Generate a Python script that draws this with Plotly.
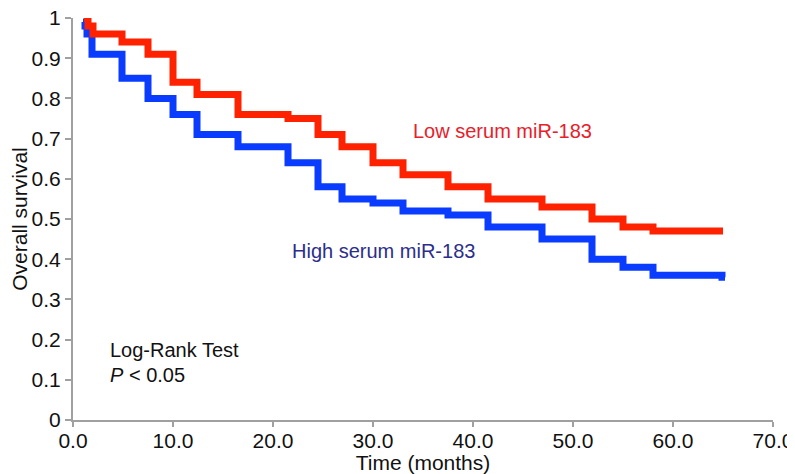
import plotly.graph_objects as go

# Low serum miR-183 (red) Kaplan-Meier steps
low_t = [1.1, 1.5, 2.0, 4.9, 7.5, 10.0, 12.4, 16.5, 21.5, 24.5, 26.9, 30.0, 33.0, 37.5, 41.5, 46.9, 51.9, 55.0, 58.0, 65.0]
low_s = [1.00, 0.98, 0.96, 0.94, 0.91, 0.84, 0.81, 0.76, 0.75, 0.71, 0.68, 0.64, 0.61, 0.58, 0.55, 0.53, 0.50, 0.48, 0.47, 0.47]

# High serum miR-183 (blue)
high_t = [1.0, 1.2, 1.4, 1.9, 4.9, 7.5, 10.0, 12.4, 16.5, 21.5, 24.5, 26.9, 30.0, 33.0, 37.5, 41.5, 46.9, 51.9, 55.0, 58.0, 64.9, 65.2]
high_s = [0.99, 0.98, 0.96, 0.91, 0.85, 0.80, 0.76, 0.71, 0.68, 0.64, 0.58, 0.55, 0.54, 0.52, 0.51, 0.48, 0.45, 0.40, 0.38, 0.36, 0.355, 0.355]

x_ticks = [0, 10, 20, 30, 40, 50, 60, 70]
y_ticks = [0, 0.1, 0.2, 0.3, 0.4, 0.5, 0.6, 0.7, 0.8, 0.9, 1]

FONT = "Liberation Sans, Arial, sans-serif"
FS = 21

fig = go.Figure()
fig.add_trace(go.Scatter(x=high_t, y=high_s, mode="lines", line=dict(shape="hv", color="#0A3CFF", width=7),
                         cliponaxis=False, showlegend=False))
fig.add_trace(go.Scatter(x=low_t, y=low_s, mode="lines", line=dict(shape="hv", color="#FF2200", width=7),
                         cliponaxis=False, showlegend=False))

fig.add_annotation(x=33.8, y=0.72, text="Low serum miR-183", showarrow=False, xanchor="left", yanchor="middle",
                   font=dict(family=FONT, size=FS - 1, color="#E8202A"))
fig.add_annotation(x=21.7, y=0.42, text="High serum miR-183", showarrow=False, xanchor="left", yanchor="middle",
                   font=dict(family=FONT, size=FS - 1, color="#2B2E8C"))
fig.add_annotation(x=3.5, y=0.174, text="Log-Rank Test", showarrow=False, xanchor="left", yanchor="middle",
                   font=dict(family=FONT, size=FS - 1, color="#111111"))
fig.add_annotation(x=3.5, y=0.112, text="<i>P</i> < 0.05", showarrow=False, xanchor="left", yanchor="middle",
                   font=dict(family=FONT, size=FS - 1, color="#111111"))

# page body has an 8px margin, so the figure is sized to fit the 795x474 window
fig.update_layout(
    width=787, height=466,
    margin=dict(l=65, r=22, t=10, b=54, autoexpand=False),
    paper_bgcolor="white", plot_bgcolor="white",
    font=dict(family=FONT, size=FS, color="#111111"),
)
fig.update_xaxes(range=[0, 70], tickvals=x_ticks, ticktext=[f"{v:.1f}" for v in x_ticks], automargin=False,
                 showgrid=False, zeroline=False, showline=True, linecolor="#A0A0A0", linewidth=2,
                 ticks="outside", ticklen=5, tickcolor="#A0A0A0", tickwidth=2,
                 ticklabeloverflow="allow", ticklabelstandoff=-4,
                 title=dict(text="Time (months)", standoff=0, font=dict(size=FS)))
fig.update_yaxes(range=[0, 1], tickvals=y_ticks, ticktext=[f"{v:g}" for v in y_ticks], automargin=False,
                 showgrid=False, zeroline=False, showline=True, linecolor="#A0A0A0", linewidth=2,
                 ticks="outside", ticklen=6, tickcolor="#A0A0A0", tickwidth=2,
                 ticklabeloverflow="allow",
                 title=dict(text="Overall survival", standoff=0, font=dict(size=FS)))

fig.write_html("out.html")
